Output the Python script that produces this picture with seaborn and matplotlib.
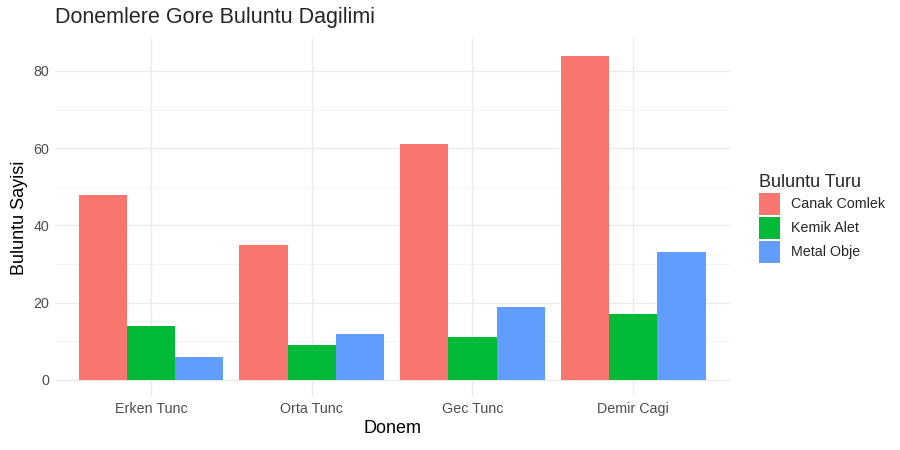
import pandas as pd
import matplotlib.pyplot as plt
import seaborn as sns
from matplotlib.patches import Patch

donem = ["Erken Tunc", "Orta Tunc", "Gec Tunc", "Demir Cagi"]
turler = ["Canak Comlek", "Kemik Alet", "Metal Obje"]
canak = [48, 35, 61, 84]
kemik = [14, 9, 11, 17]
metal = [6, 12, 19, 33]

renkler = {"Canak Comlek": "#F8766D", "Kemik Alet": "#00BA38", "Metal Obje": "#619CFF"}

df = pd.DataFrame({
    "Donem": donem * 3,
    "Tur": [turler[0]] * 4 + [turler[1]] * 4 + [turler[2]] * 4,
    "Sayi": canak + kemik + metal,
})

sns.set_style("white")
plt.rcParams['font.family'] = ['Liberation Sans', 'DejaVu Sans']

fig = plt.figure(figsize=(9, 4.5), dpi=100)
ax = fig.add_axes([0.0607, 0.1196, 0.75, 0.7931])

# ggplot tarzı grid
for y in [10, 30, 50, 70]:
    ax.axhline(y, color="#F2F2F2", lw=0.6, zorder=0)
for y in [0, 20, 40, 60, 80]:
    ax.axhline(y, color="#EBEBEB", lw=1.0, zorder=0)
for x in range(4):
    ax.axvline(x, color="#EBEBEB", lw=1.0, zorder=0)

sns.barplot(data=df, x="Donem", y="Sayi", hue="Tur", hue_order=turler,
            order=donem, palette=renkler, width=0.9, gap=0, saturation=1,
            linewidth=0, edgecolor="none", errorbar=None, ax=ax, zorder=2)

ax.set_xlim(-0.6, 3.6)
ax.set_ylim(-4.2, 88.2)
ax.set_yticks([0, 20, 40, 60, 80])
for s in ax.spines.values():
    s.set_visible(False)
ax.tick_params(axis="both", length=0, labelsize=10.3, colors="#4D4D4D", pad=4)
ax.set_xlabel("Donem", fontsize=13, color="black", labelpad=3)
ax.set_ylabel("Buluntu Sayisi", fontsize=13, color="black", labelpad=4)
fig.text(0.0611, 0.96, "Donemlere Gore Buluntu Dagilimi", fontsize=15.5,
         ha="left", va="center")

ax.get_legend().remove()
handles = [Patch(facecolor=renkler[t], edgecolor="none") for t in turler]
fig.legend(handles, turler, title="Buluntu Turu", loc="center left",
           bbox_to_anchor=(0.829, 0.515), frameon=False, fontsize=10.3,
           title_fontsize=13, handlelength=1.47, handleheight=1.99,
           labelspacing=0.14, handletextpad=0.75, alignment="left")

plt.savefig("out.png", dpi=100)
